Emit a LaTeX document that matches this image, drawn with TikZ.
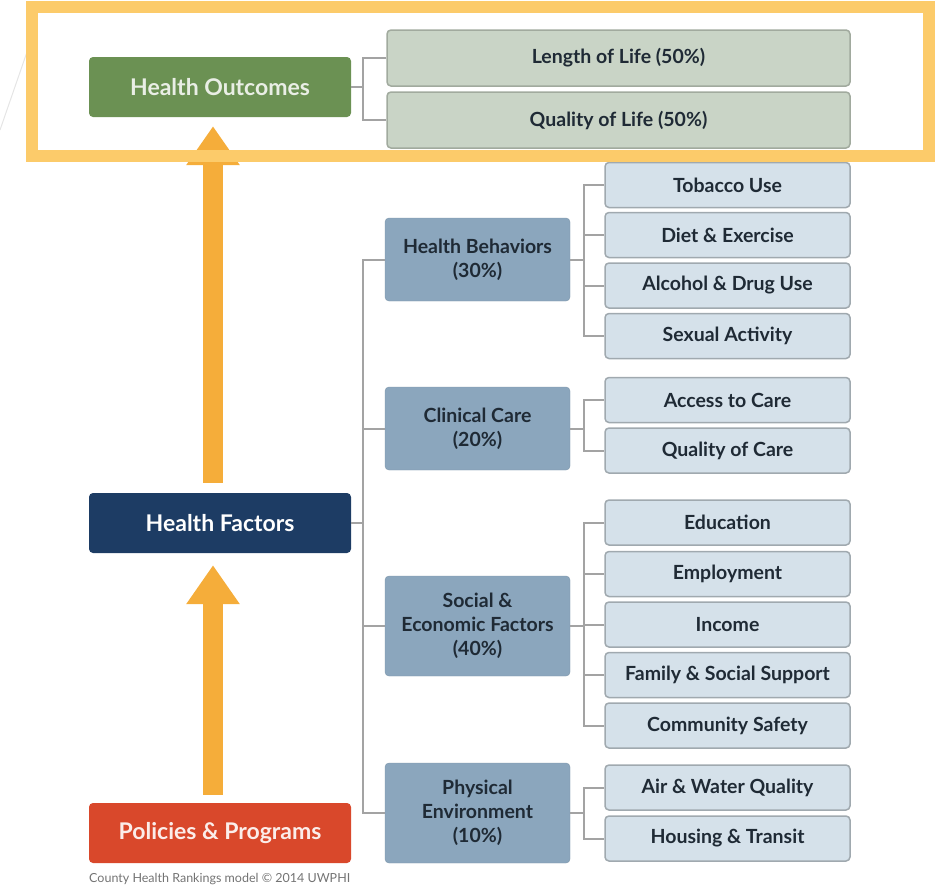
\documentclass[tikz,border=0pt]{standalone}
\usepackage{fontspec}
\setmainfont{Lato}
\usetikzlibrary{arrows.meta}

\definecolor{outgreen}{HTML}{6B9153}
\definecolor{outlight}{HTML}{C9D4C6}
\definecolor{factnavy}{HTML}{1D3C64}
\definecolor{polred}{HTML}{D9482B}
\definecolor{catblue}{HTML}{8BA6BD}
\definecolor{itemblue}{HTML}{D5E1EA}
\definecolor{arroworange}{HTML}{F5AD3A}
\definecolor{framegold}{HTML}{FCCB6A}
\definecolor{linkgray}{HTML}{A3A3A3}
\definecolor{textdark}{HTML}{1F2A35}

\tikzset{
    box/.style={rounded corners=4, inner sep=0, align=center, font=\bfseries\fontsize{19.5}{24}\selectfont},
    mainbox/.style={box, minimum width=262, minimum height=60, font=\bfseries\fontsize{23}{26}\selectfont},
    outcomebox/.style={box, fill=outlight, draw=outlight!80!black, line width=1.5, text=textdark,
        minimum width=463, minimum height=56},
    catbox/.style={box, fill=catblue, draw=catblue!90!black, text=textdark, minimum width=185},
    itembox/.style={box, fill=itemblue, draw=itemblue!75!black, line width=1.5, text=textdark,
        minimum width=245, minimum height=45},
    link/.style={draw=linkgray, line width=2},
    bigarrow/.style={line width=20, draw=arroworange, -{Triangle[width=51, length=39]}},
}

\begin{document}
\begin{tikzpicture}[x=1pt, y=-1pt]
    \useasboundingbox (0,0) rectangle (935,887);
    \draw[black!10, line width=1] (27,52) -- (0,130);

    % left column
    \node[mainbox, fill=outgreen, text=outgreen!15] (ho) at (220,87) {Health Outcomes};
    \node[mainbox, fill=factnavy, text=white] (hf) at (220,523) {Health Factors};
    \node[mainbox, fill=polred, text=polred!10] (pp) at (220,833) {Policies \& Programs};
    \node[anchor=west, text=black!55, font=\fontsize{12.5}{14}\selectfont, inner sep=0] (credit) at (89,879)
        {County Health Rankings model © 2014 UWPHI};

    \draw[bigarrow] ([xshift=-7, yshift=10]hf.north) -- ([xshift=-7, yshift=-9]ho.south);
    \draw[bigarrow] ([xshift=-7, yshift=8]pp.north) -- ([xshift=-7, yshift=-12]hf.south);

    % outcomes
    \node[outcomebox] (life) at (618.5,58) {Length of Life (50\%)};
    \node[outcomebox] (qual) at (618.5,120) {Quality of Life (50\%)};

    % factor groups
    \node[catbox, minimum height=83] (hb) at (477.5,259.5) {Health Behaviors\\(30\%)};
    \node[catbox, minimum height=83] (cc) at (477.5,428.5) {Clinical Care\\(20\%)};
    \node[catbox, minimum height=100] (se) at (477.5,626) {Social \&\\Economic Factors\\(40\%)};
    \node[catbox, minimum height=100] (pe) at (477.5,813) {Physical\\Environment\\(10\%)};

    \node[itembox] (tob) at (727.5,185) {Tobacco Use};
    \node[itembox] (diet) at (727.5,235) {Diet \& Exercise};
    \node[itembox] (alc) at (727.5,285.5) {Alcohol \& Drug Use};
    \node[itembox] (sex) at (727.5,336) {Sexual Activity};
    \node[itembox] (acc) at (727.5,400) {Access to Care};
    \node[itembox] (qoc) at (727.5,450.5) {Quality of Care};
    \node[itembox] (edu) at (727.5,522.5) {Education};
    \node[itembox] (emp) at (727.5,574) {Employment};
    \node[itembox] (inc) at (727.5,624.5) {Income};
    \node[itembox] (fam) at (727.5,675) {Family \& Social Support};
    \node[itembox] (com) at (727.5,725.5) {Community Safety};
    \node[itembox] (air) at (727.5,787.5) {Air \& Water Quality};
    \node[itembox] (hou) at (727.5,838.5) {Housing \& Transit};

    % connectors
    \draw[link] (ho.east) -- ++(12,0) coordinate (hoj);
    \draw[link] (life.west) -| (hoj) |- (qual.west);

    \coordinate (trunk) at (363,0);
    \draw[link] (hf.east) -- (hf.east -| trunk);
    \draw[link] (hb.west) -- (hb.west -| trunk) -- (pe.west -| trunk) -- (pe.west);
    \draw[link] (cc.west) -- (cc.west -| trunk);
    \draw[link] (se.west) -- (se.west -| trunk);

    \coordinate (branch) at (584,0);
    \foreach \cat/\first/\last in {hb/tob/sex, cc/acc/qoc, se/edu/com, pe/air/hou} {
        \draw[link] (\cat.east) -- (\cat.east -| branch);
        \draw[link] (\first.west) -- (\first.west -| branch) -- (\last.west -| branch) -- (\last.west);
    }
    \foreach \item in {diet, alc, emp, inc, fam}
        \draw[link] (\item.west) -- (\item.west -| branch);

    \draw[framegold, line width=12] (32,7) rectangle (929,156);
\end{tikzpicture}
\end{document}
